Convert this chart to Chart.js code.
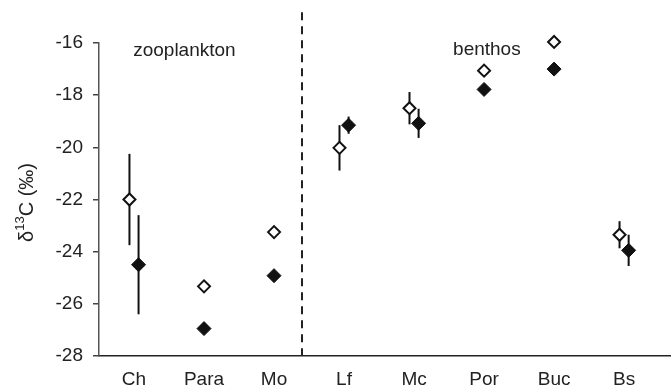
<!DOCTYPE html>
<html>
<head>
<meta charset="utf-8">
<script src="https://cdn.jsdelivr.net/npm/chart.js@4/dist/chart.umd.min.js"></script>
<style>
  html, body { margin: 0; padding: 0; background: #fff; }
  #wrap { width: 671px; height: 389px; }
</style>
</head>
<body>
<div id="wrap"><canvas id="chart" width="671" height="389"></canvas></div>
<script>
// groups along the x axis
const categories = ['Ch', 'Para', 'Mo', 'Lf', 'Mc', 'Por', 'Buc', 'Bs'];

// open diamonds: mean and +/- error (null = no bar)
const openMean = [-22.0, -25.33, -23.25, -20.02, -18.5, -17.06, -15.96, -23.35];
const openErr  = [1.75, null, null, 0.87, 0.62, null, null, 0.52];

// filled diamonds
const filledMean = [-24.5, -26.95, -24.92, -19.15, -19.08, -17.78, -17.0, -23.95];
const filledErr  = [1.9, null, null, 0.33, 0.56, null, null, 0.6];

const yTicks = [-16, -18, -20, -22, -24, -26, -28];

// group labels and the divider between them
const groupLabels = [
    { text: 'zooplankton', x: 1.72, y: -16.28 },
    { text: 'benthos', x: 6.04, y: -16.25 }
];
const dividerX = 3.4;
const dividerTop = -14.82;

const FONT = "'Liberation Sans', Arial, sans-serif";
const INK = '#222';

// nudge paired points apart where they carry error bars
const nudge = i => (openErr[i] || filledErr[i]) ? 0.065 : 0;
const openPts = openMean.map((v, i) => ({ x: i + 1 - nudge(i), y: v, err: openErr[i] }));
const filledPts = filledMean.map((v, i) => ({ x: i + 1 + nudge(i), y: v, err: filledErr[i] }));

// error bars, divider, group labels and the y title
const extras = {
    id: 'extras',
    beforeDatasetsDraw(chart) {
        const { ctx, scales: { x, y } } = chart;
        ctx.save();
        ctx.strokeStyle = '#111';
        ctx.lineWidth = 2;
        chart.data.datasets.forEach(ds => {
            ds.data.forEach(p => {
                if (!p.err) return;
                const px = x.getPixelForValue(p.x);
                ctx.beginPath();
                ctx.moveTo(px, y.getPixelForValue(p.y + p.err));
                ctx.lineTo(px, y.getPixelForValue(p.y - p.err));
                ctx.stroke();
            });
        });
        ctx.restore();
    },
    afterDraw(chart) {
        const { ctx, scales: { x, y } } = chart;
        ctx.save();
        // dashed divider
        const dx = Math.round(x.getPixelForValue(dividerX));
        ctx.strokeStyle = '#222';
        ctx.lineWidth = 2;
        ctx.setLineDash([8, 6]);
        ctx.beginPath();
        ctx.moveTo(dx, y.getPixelForValue(dividerTop));
        ctx.lineTo(dx, chart.chartArea.bottom);
        ctx.stroke();
        ctx.setLineDash([]);

        // group labels
        ctx.fillStyle = INK;
        ctx.font = '19px ' + FONT;
        ctx.textAlign = 'center';
        ctx.textBaseline = 'middle';
        groupLabels.forEach(g => {
            ctx.fillText(g.text, x.getPixelForValue(g.x), y.getPixelForValue(g.y));
        });

        // y axis title with superscript 13
        ctx.translate(27, (chart.chartArea.top + chart.chartArea.bottom) / 2 + 3);
        ctx.rotate(-Math.PI / 2);
        const big = '20px ' + FONT, small = '13px ' + FONT;
        const parts = [['\u03b4', big, 0], ['13', small, -7], ['C (\u2030)', big, 0]];
        let total = 0;
        parts.forEach(p => { ctx.font = p[1]; total += ctx.measureText(p[0]).width; });
        let cx = -total / 2;
        ctx.textAlign = 'left';
        parts.forEach(p => {
            ctx.font = p[1];
            ctx.fillText(p[0], cx, p[2]);
            cx += ctx.measureText(p[0]).width;
        });
        ctx.restore();
    }
};

new Chart(document.getElementById('chart'), {
    type: 'scatter',
    data: {
        datasets: [
            {
                label: 'open',
                data: openPts,
                pointStyle: 'rectRot',
                pointRadius: 6,
                pointBackgroundColor: '#fff',
                pointBorderColor: '#111',
                pointBorderWidth: 2,
                pointHoverRadius: 6
            },
            {
                label: 'filled',
                data: filledPts,
                pointStyle: 'rectRot',
                pointRadius: 7,
                pointBackgroundColor: '#111',
                pointBorderColor: '#111',
                pointBorderWidth: 1,
                pointHoverRadius: 7
            }
        ]
    },
    options: {
        responsive: false,
        animation: false,
        clip: false,
        layout: { padding: { top: 43, left: 0, right: 0, bottom: 0 }, autoPadding: false },
        plugins: { legend: { display: false }, tooltip: { enabled: false } },
        scales: {
            x: {
                type: 'linear',
                min: 0.5,
                max: 8.67,
                afterFit: s => { s.height = 33; },
                afterBuildTicks: s => { s.ticks = categories.map((c, i) => ({ value: i + 1 })); },
                grid: { display: false, drawTicks: false },
                border: { display: true, color: '#222', width: 1.5 },
                ticks: {
                    autoSkip: false,
                    maxRotation: 0,
                    padding: 12,
                    color: INK,
                    font: { family: FONT, size: 19 },
                    callback: v => categories[Math.round(v) - 1]
                }
            },
            y: {
                min: -28,
                max: -16,
                afterFit: s => { s.width = 99; },
                afterBuildTicks: s => { s.ticks = yTicks.map(v => ({ value: v })); },
                grid: { drawOnChartArea: false, drawTicks: true, tickLength: 6, color: '#444', lineWidth: 1.5 },
                border: { display: true, color: '#555', width: 1.5 },
                ticks: {
                    padding: 10,
                    color: INK,
                    font: { family: FONT, size: 19 }
                }
            }
        }
    },
    plugins: [extras]
});
</script>
</body>
</html>
